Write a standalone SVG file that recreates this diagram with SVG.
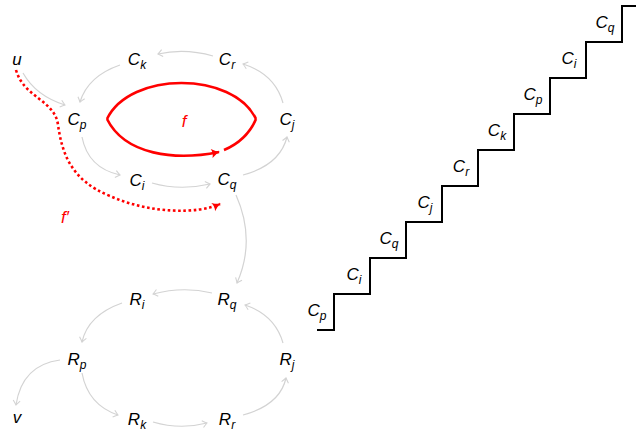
<svg xmlns="http://www.w3.org/2000/svg" width="636" height="434" viewBox="0 0 636 434">
<defs>
<style>
.n{font-family:"Liberation Sans",Arial,sans-serif;font-style:italic;font-size:17px;fill:#000;text-anchor:middle}
.s{font-size:12px}
.e{fill:none;stroke:#d3d3d3;stroke-width:1.2}
.red{fill:none;stroke:#ff0000;stroke-width:2.6}
.lbl{font-family:"Liberation Sans",Arial,sans-serif;font-style:italic;font-size:17px;fill:#ff0000;text-anchor:middle}
</style>
<marker id="ag" viewBox="-6 -5 8 10" markerWidth="8" markerHeight="10" refX="0" refY="0" orient="auto" markerUnits="userSpaceOnUse">
<path d="M -4.5 -3.5 Q -1.5 -1 0 0 Q -1.5 1 -4.5 3.5" fill="none" stroke="#d3d3d3" stroke-width="1.1"/>
</marker>
<marker id="ar" viewBox="-9 -6 11 12" markerWidth="11" markerHeight="12" refX="0" refY="0" orient="auto" markerUnits="userSpaceOnUse">
<path d="M -7.5 -4.5 Q -3 -1 1 0 Q -3 1 -7.5 4.5 Q -5.5 0 -7.5 -4.5 Z" fill="#ff0000"/>
</marker>
</defs>
<rect width="636" height="434" fill="#ffffff"/>

<g id="connectors">
<path class="e" d="M 213 56 Q 185 48 158 54" marker-end="url(#ag)"/>
<path class="e" d="M 120 65 Q 88 76 80 102" marker-end="url(#ag)"/>
<path class="e" d="M 23 73 Q 36 96 65 105" marker-end="url(#ag)"/>
<path class="e" d="M 82 137 Q 88 168 120 175" marker-end="url(#ag)"/>
<path class="e" d="M 152 183 Q 180 191 210 184" marker-end="url(#ag)"/>
<path class="e" d="M 243 175 Q 280 165 287 137" marker-end="url(#ag)"/>
<path class="e" d="M 283 103 Q 275 74 243 64" marker-end="url(#ag)"/>
<path class="e" d="M 236 195 Q 256 240 237 283" marker-end="url(#ag)"/>
<path class="e" d="M 212 293 Q 183 286 153 294" marker-end="url(#ag)"/>
<path class="e" d="M 122 303 Q 88 315 82 342" marker-end="url(#ag)"/>
<path class="e" d="M 60 360 Q 22 365 16 405" marker-end="url(#ag)"/>
<path class="e" d="M 82 373 Q 88 405 118 415" marker-end="url(#ag)"/>
<path class="e" d="M 153 422 Q 180 430 207 423" marker-end="url(#ag)"/>
<path class="e" d="M 243 415 Q 280 405 286 378" marker-end="url(#ag)"/>
<path class="e" d="M 283 343 Q 275 315 245 305" marker-end="url(#ag)"/>
</g>

<g id="cycle-f">
<path class="red" d="M 107 119 C 130 71 233 71 256 119"/>
<path class="red" d="M 107 119 C 125 155 175 161 219 152" marker-end="url(#ar)"/>
<path class="red" d="M 224 150 C 238 144 250 133 256 119"/>
<text class="lbl" x="184" y="127">f</text>
</g>

<g id="path-f-prime">
<path class="red" stroke-dasharray="2.6 2.6" d="M 16 70 C 24 98 55 100 58 125 C 62 152 70 180 110 196 C 150 214 198 214 220 204" marker-end="url(#ar)"/>
<text class="lbl" x="65" y="223">f′</text>
</g>

<g id="node-u"><text class="n" x="17" y="65">u</text></g>
<g id="node-Ck"><text class="n" x="137" y="65">C<tspan class="s" dy="4">k</tspan></text></g>
<g id="node-Cr"><text class="n" x="227" y="65">C<tspan class="s" dy="4">r</tspan></text></g>
<g id="node-Cp"><text class="n" x="77" y="125">C<tspan class="s" dy="4">p</tspan></text></g>
<g id="node-Cj"><text class="n" x="287" y="125">C<tspan class="s" dy="4">j</tspan></text></g>
<g id="node-Ci"><text class="n" x="137" y="186">C<tspan class="s" dy="4">i</tspan></text></g>
<g id="node-Cq"><text class="n" x="227" y="185">C<tspan class="s" dy="4">q</tspan></text></g>

<g id="node-Ri"><text class="n" x="137" y="305">R<tspan class="s" dy="4">i</tspan></text></g>
<g id="node-Rq"><text class="n" x="227" y="305">R<tspan class="s" dy="4">q</tspan></text></g>
<g id="node-Rp"><text class="n" x="77" y="365">R<tspan class="s" dy="4">p</tspan></text></g>
<g id="node-Rj"><text class="n" x="287" y="365">R<tspan class="s" dy="4">j</tspan></text></g>
<g id="node-v"><text class="n" x="17" y="423">v</text></g>
<g id="node-Rk"><text class="n" x="137" y="425">R<tspan class="s" dy="4">k</tspan></text></g>
<g id="node-Rr"><text class="n" x="227" y="425">R<tspan class="s" dy="4">r</tspan></text></g>

<g id="staircase">
<path d="M 317 330 H 334 V 294 H 370 V 258 H 406 V 222 H 442 V 186 H 478 V 150 H 514 V 114 H 550 V 78 H 586 V 42 H 622 V 6 H 636" fill="none" stroke="#000" stroke-width="2"/>
<text class="n" x="317" y="316">C<tspan class="s" dy="4">p</tspan></text>
<text class="n" x="354" y="280">C<tspan class="s" dy="4">i</tspan></text>
<text class="n" x="389" y="244">C<tspan class="s" dy="4">q</tspan></text>
<text class="n" x="425" y="208">C<tspan class="s" dy="4">j</tspan></text>
<text class="n" x="461" y="172">C<tspan class="s" dy="4">r</tspan></text>
<text class="n" x="497" y="136">C<tspan class="s" dy="4">k</tspan></text>
<text class="n" x="533" y="100">C<tspan class="s" dy="4">p</tspan></text>
<text class="n" x="569" y="64">C<tspan class="s" dy="4">i</tspan></text>
<text class="n" x="605" y="28">C<tspan class="s" dy="4">q</tspan></text>
</g>
</svg>
